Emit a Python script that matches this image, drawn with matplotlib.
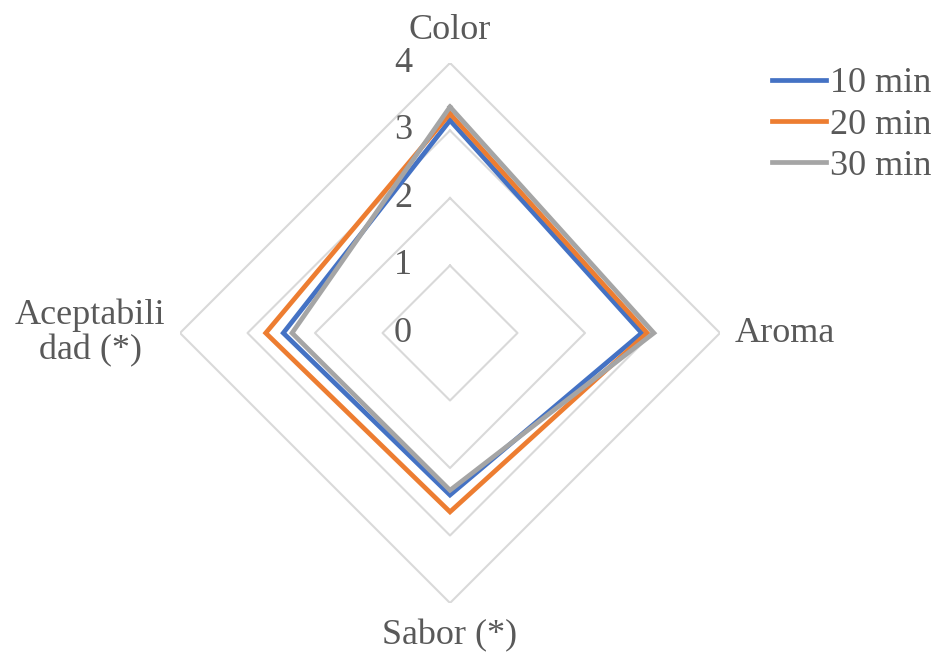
import numpy as np
import matplotlib.pyplot as plt
from matplotlib import transforms

# Categories and series
categories = ['Color', 'Aroma', 'Sabor (*)', 'Aceptabili\ndad (*)']
series_names = ['10 min', '20 min', '30 min']
vals_10 = [3.15, 2.84, 2.40, 2.47]
vals_20 = [3.25, 2.92, 2.65, 2.73]
vals_30 = [3.35, 3.02, 2.33, 2.34]
levels = [1, 2, 3, 4]
level_labels = ['0', '1', '2', '3', '4']

colors = ['#4472C4', '#ED7D31', '#A5A5A5']
grid_color = '#D9D9D9'
text_color = '#595959'

plt.rcParams['font.family'] = ['Liberation Serif', 'DejaVu Serif']

fig = plt.figure(figsize=(9.38, 6.55), dpi=100)
ax = fig.add_axes([0.1919, 0.0794, 0.5757, 0.8244], projection='polar')
ax.set_theta_offset(np.pi / 2)
ax.set_theta_direction(-1)
ax.set_ylim(0, 4)
ax.set_xticks([])
ax.set_yticks([])
ax.grid(False)
ax.spines['polar'].set_visible(False)

n = len(categories)
angles = np.arange(n) * 2 * np.pi / n
closed = np.append(angles, angles[0])

# polygonal gridlines
for lv in levels:
    ax.plot(closed, [lv] * (n + 1), color=grid_color, lw=1.5, zorder=1)

# series
for name, vals, c in zip(series_names, [vals_10, vals_20, vals_30], colors):
    ax.plot(closed, vals + vals[:1], color=c, lw=3.4, label=name,
            solid_joinstyle='miter', zorder=3)

# value labels along the vertical axis, shifted left
tr_lab = transforms.offset_copy(ax.transData, fig=fig, x=-47, y=0, units='dots')
for i, lab in enumerate(level_labels):
    ax.text(0, i, lab, transform=tr_lab, ha='center', va='center',
            fontsize=26, color=text_color, zorder=2)

# category labels
offsets = [(0, 33, 'center'), (15, 0, 'left'), (0, -33, 'center'), (-90, 0, 'center')]
for ang, cat, (dx, dy, ha) in zip(angles, categories, offsets):
    tr = transforms.offset_copy(ax.transData, fig=fig, x=dx, y=dy, units='dots')
    ax.text(ang, 4, cat, transform=tr, ha=ha, va='center', fontsize=26,
            color=text_color, linespacing=1.1)

leg = fig.legend(loc='upper right', bbox_to_anchor=(1.012, 0.925), frameon=False,
                 fontsize=26, handlelength=1.5, handletextpad=0.1,
                 labelspacing=0.22, borderaxespad=0.1)
for t in leg.get_texts():
    t.set_color(text_color)

fig.savefig('out.png', dpi=100)
